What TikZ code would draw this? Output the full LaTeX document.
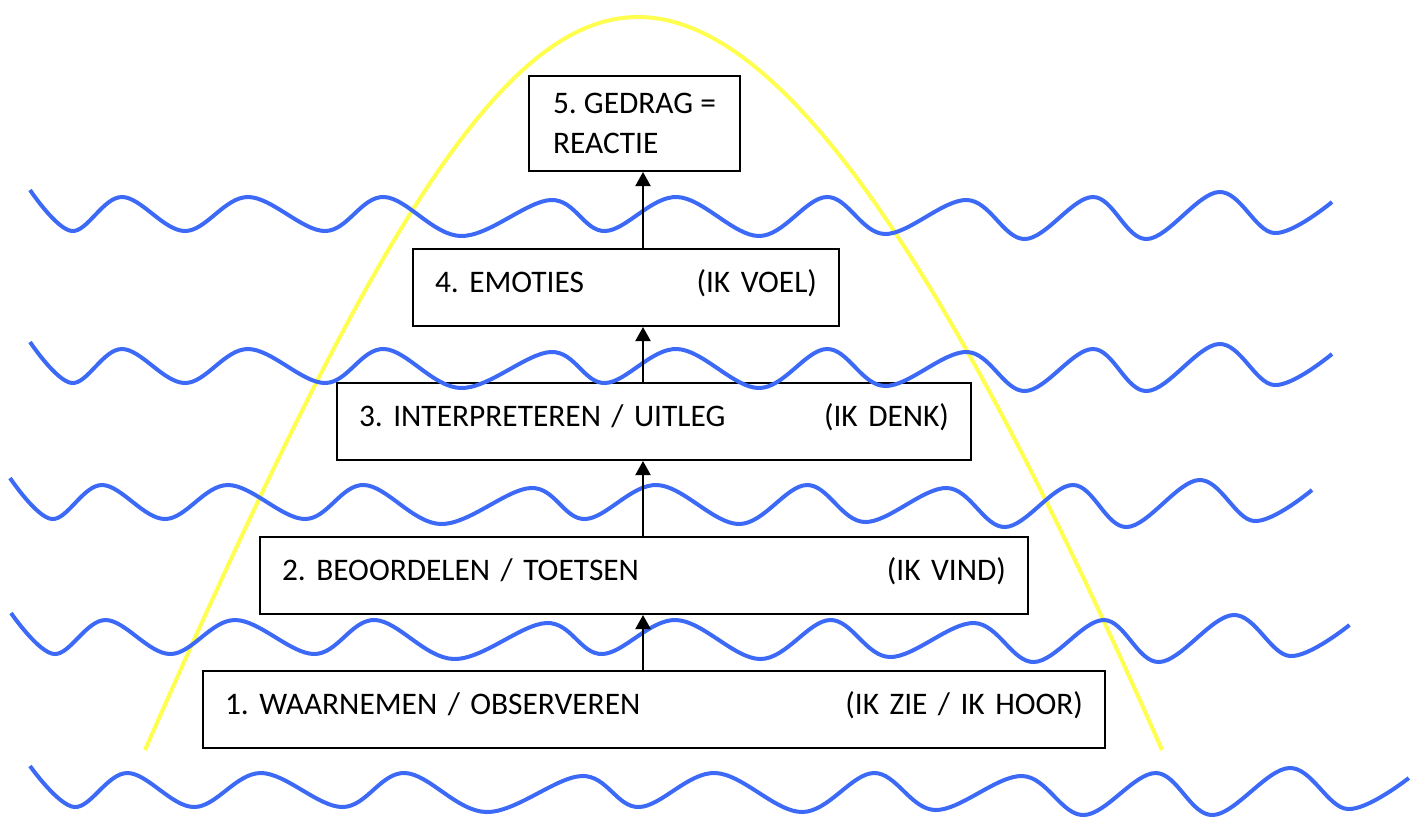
\documentclass[tikz,border=0pt]{standalone}
\usepackage{fontspec}
\setmainfont{Carlito}
\usetikzlibrary{arrows.meta}

\definecolor{waveblue}{RGB}{60,105,245}
\definecolor{humpyellow}{RGB}{255,255,80}

\newcommand{\wavecurve}{%
  \draw[wave] plot[smooth, tension=0.6] coordinates {
    (30,190) (72,231) (122,197) (185,231) (248,197) (325,231) (384,197)
    (461,236) (551,200) (605,231) (677,197) (759,236) (827,197) (885,234)
    (967,200) (1025,239) (1093,197) (1147,239) (1219,192) (1274,233) (1332,202)};}

\begin{document}
\frenchspacing
\begin{tikzpicture}[
    x=0.5pt, y=-0.5pt,
    box/.style={
        draw,
        line width=1pt,
        anchor=north west,
        align=left,
        inner xsep=11pt,
        font=\fontsize{15.7}{20}\selectfont
    },
    layer/.style={
        box,
        inner ysep=0pt,
        minimum height=38.5pt,
        text height=12pt,
        text depth=7.5pt
    },
    hump/.style={
        draw=humpyellow,
        line width=2pt
    },
    wave/.style={
        draw=waveblue,
        line width=2pt
    },
    arrow/.style={
        -{Triangle[length=7pt,width=7.5pt]},
        line width=1pt
    }
]
\useasboundingbox (0,0) rectangle (1418,816);

\draw[hump] (145,750) .. controls (365,250) and (498,17) .. (638,17)
    .. controls (778,17) and (942,250) .. (1162,750);

\node[layer, text width=429pt] (observe) at (202,670)
{1. WAARNEMEN / OBSERVEREN\hfill(IK ZIE / IK HOOR)};
\node[layer, text width=362pt] (judge) at (259,536)
{2. BEOORDELEN / TOETSEN\hfill(IK VIND)};
\node[layer, text width=295pt] (interpret) at (336,382)
{3. INTERPRETEREN / UITLEG\hfill(IK DENK)};
\node[layer, text width=191pt] (emotions) at (412,248)
{4. EMOTIES\hfill(IK VOEL)};
\node[box, minimum width=105.5pt, minimum height=47.5pt] (behaviour) at (528,75)
{5. GEDRAG =\\REACTIE};

\wavecurve
\begin{scope}[shift={(0,152)}]
\wavecurve
\end{scope}
\begin{scope}[shift={(-20,288)}]
\wavecurve
\end{scope}
\begin{scope}[shift={(-19.84,423)}, xscale=1.028]
\wavecurve
\end{scope}
\begin{scope}[shift={(-1.77,576)}, xscale=1.059]
\wavecurve
\end{scope}

\coordinate (spine) at (643,0);
\draw[arrow] (observe.north -| spine) -- (judge.south -| spine);
\draw[arrow] (judge.north -| spine) -- (interpret.south -| spine);
\draw[arrow] (interpret.north -| spine) -- (emotions.south -| spine);
\draw[arrow] (emotions.north -| spine) -- (behaviour.south -| spine);

\end{tikzpicture}
\end{document}
